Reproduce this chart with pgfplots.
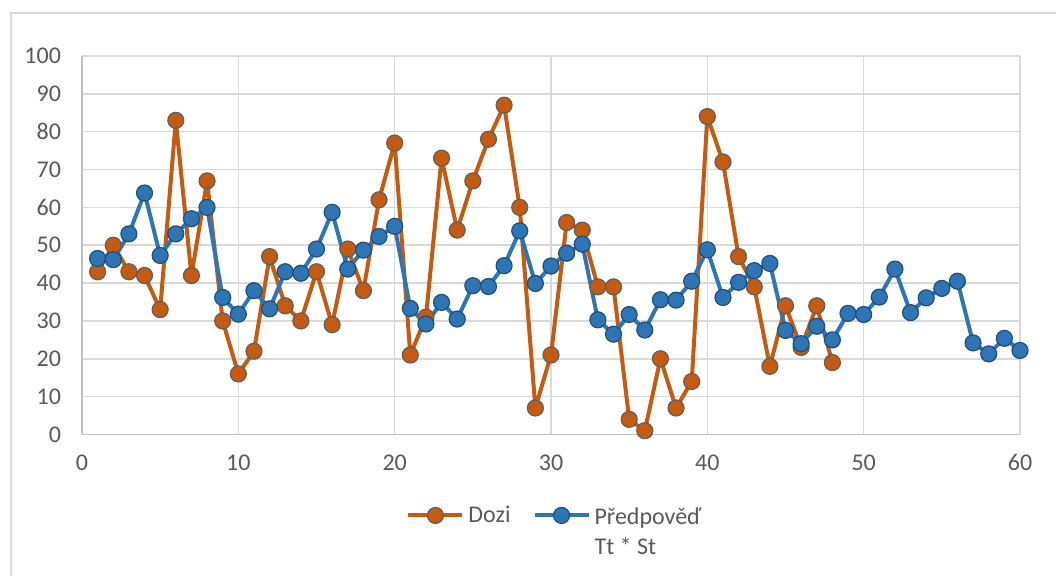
\documentclass[border=0pt]{standalone}
\usepackage{pgfplots}
\pgfplotsset{compat=1.18}
\usepackage{fontspec}
\setmainfont{Carlito}

\definecolor{dozi}{HTML}{C55A11}
\definecolor{doziedge}{HTML}{5F5F5F}
\definecolor{pred}{HTML}{2E75B6}
\definecolor{prededge}{HTML}{1F4E79}
\definecolor{gridc}{HTML}{D9D9D9}
\definecolor{axisc}{HTML}{BFBFBF}
\definecolor{textc}{HTML}{595959}

\begin{document}
\begin{tikzpicture}
% overall canvas and chart frame
\path[use as bounding box] (-41pt,-70.75pt) rectangle (487pt,217.25pt);
\draw[gridc, line width=0.9pt] (-35.5pt,-70.75pt) -- (-35.5pt,210.75pt) -- (487pt,210.75pt);
\begin{axis}[
  scale only axis,
  width=469pt, height=189.25pt,
  xmin=0, xmax=60, ymin=0, ymax=100,
  xtick={0,10,...,60}, ytick={0,10,...,100},
  axis lines=left,
  axis line style={draw=axisc, line width=0.8pt, -},
  major tick length=0pt,
  grid=major,
  major grid style={draw=gridc, line width=0.8pt},
  tick label style={font=\fontsize{12}{14}\selectfont, text=textc},
  /pgf/number format/assume math mode=true,
  xticklabel style={yshift=-6.5pt},
  yticklabel style={xshift=-7pt},
  legend style={
    at={(axis description cs:0.505,-0.16)}, anchor=north,
    draw=none, fill=none,
    legend columns=2,
    font=\fontsize{12}{15}\selectfont, text=textc,
    /tikz/every odd column/.append style={column sep=0pt},
    /tikz/every even column/.append style={column sep=9pt},
  },
  legend image code/.code={
    \draw[#1, mark=none] (0pt,0pt) -- (27pt,0pt);
    \draw[#1, only marks] plot coordinates {(13.5pt,0pt)};
  },
]
\addplot[color=dozi, line width=2pt, line join=round, mark=*, mark size=4pt,
  mark options={fill=dozi, draw=doziedge, line width=0.6pt}]
coordinates {
(1,43) (2,50) (3,43) (4,42) (5,33) (6,83) (7,42) (8,67) (9,30) (10,16)
(11,22) (12,47) (13,34) (14,30) (15,43) (16,29) (17,49) (18,38) (19,62) (20,77)
(21,21) (22,31) (23,73) (24,54) (25,67) (26,78) (27,87) (28,60) (29,7) (30,21)
(31,56) (32,54) (33,39) (34,39) (35,4) (36,1) (37,20) (38,7) (39,14) (40,84)
(41,72) (42,47) (43,39) (44,18) (45,34) (46,23) (47,34) (48,19)
};
\addlegendentry{Dozi}
\addplot[color=pred, line width=2pt, line join=round, mark=*, mark size=4pt,
  mark options={fill=pred, draw=prededge, line width=0.6pt}]
coordinates {
(1,46.5) (2,46.2) (3,53) (4,63.8) (5,47.3) (6,53) (7,57) (8,60) (9,36.2) (10,31.8)
(11,38) (12,33.2) (13,43) (14,42.6) (15,49) (16,58.7) (17,43.7) (18,48.7) (19,52.3) (20,55)
(21,33.3) (22,29.2) (23,34.9) (24,30.5) (25,39.3) (26,39.1) (27,44.6) (28,53.8) (29,39.9) (30,44.5)
(31,47.9) (32,50.3) (33,30.3) (34,26.5) (35,31.7) (36,27.6) (37,35.6) (38,35.5) (39,40.5) (40,48.8)
(41,36.2) (42,40.2) (43,43.3) (44,45.2) (45,27.5) (46,24) (47,28.6) (48,25) (49,32) (50,31.7)
(51,36.3) (52,43.7) (53,32.2) (54,36.1) (55,38.6) (56,40.5) (57,24.2) (58,21.3) (59,25.4) (60,22.2)
};
\addlegendentry{\begin{tabular}[t]{@{}l@{}}Předpověď\\Tt * St\end{tabular}}
\end{axis}
\end{tikzpicture}
\end{document}
